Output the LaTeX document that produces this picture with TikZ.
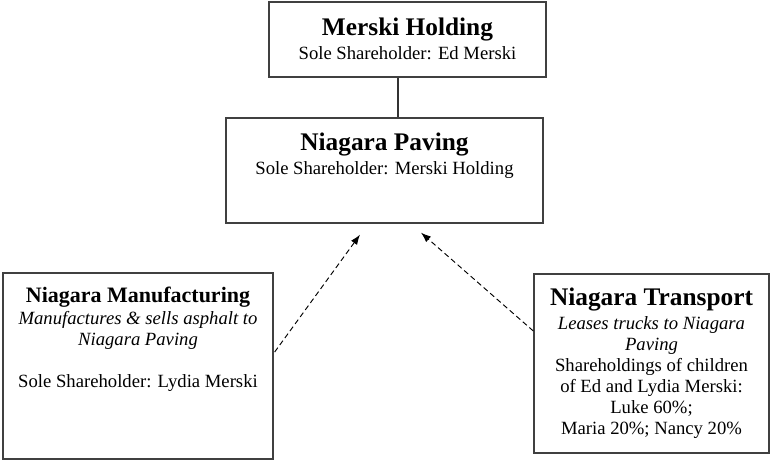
\documentclass[tikz,border=0pt]{standalone}
\usepackage{fontspec}
\setmainfont{Liberation Serif}
\usepackage{tikz}
\usetikzlibrary{calc,positioning,arrows.meta}

\tikzset{
  orgbox/.style={draw=black!75, line width=1pt, rectangle, inner sep=0pt},
  orgtext/.style={anchor=north, inner sep=0pt, align=center,
    font=\fontsize{14}{15.75}\selectfont},
  deal/.style={dash pattern=on 4pt off 2.5pt, line width=0.7pt,
    -{Latex[length=7.5pt,width=5.5pt]}}
}
\newcommand{\orgtitle}[1]{{\fontsize{19}{21}\selectfont\bfseries #1}}

\begin{document}
\begin{tikzpicture}[x=0.75pt,y=-0.75pt]
\useasboundingbox (0,0) rectangle (772,462);

% boxes
\node[orgbox, minimum width=207.75pt, minimum height=56.25pt] (holding) at (407.5,39.5) {};
\node[orgbox, minimum width=237.75pt, minimum height=78.75pt] (paving) at (384.5,170.5) {};
\node[orgbox, minimum width=202.5pt, minimum height=139.5pt] (manuf) at (138,366) {};
\node[orgbox, minimum width=176.25pt, minimum height=134.25pt] (transport) at (651.5,363.5) {};

% texts
\node[orgtext, below=12.5pt of holding.north] (holdingtxt)
  {\orgtitle{Merski Holding}\\[2pt] Sole Shareholder: Ed Merski};
\node[orgtext, below=11.5pt of paving.north] (pavingtxt)
  {\orgtitle{Niagara Paving}\\[2pt] Sole Shareholder: Merski Holding};
\node[orgtext, below=10.5pt of manuf.north] (manuftxt)
  {{\fontsize{16.5}{18}\selectfont\bfseries Niagara Manufacturing}\\[1pt]
   \itshape Manufactures \& sells asphalt to\\ \itshape Niagara Paving\\[16pt]
   Sole Shareholder: Lydia Merski};
\node[orgtext, below=10.5pt of transport.north] (transporttxt)
  {\orgtitle{Niagara Transport}\\[2.5pt]
   \itshape Leases trucks to Niagara\\ \itshape Paving\\
   Shareholdings of children\\ of Ed and Lydia Merski:\\
   Luke 60\%;\\ Maria 20\%; Nancy 20\%};

% ownership line
\draw[black!80, line width=0.8pt] (holding.south -| 398,0) -- (paving.north -| 398,0);

% dealings
\coordinate (tipA) at ($(paving.south)+(-24.5,11)$);
\coordinate (tipB) at ($(paving.south)+(36.5,9)$);
\draw[deal] ($(manuf.east)+(1,-14)$) -- (tipA);
\draw[deal] ($(transport.west)+(0,-32.5)$) -- (tipB);

\end{tikzpicture}
\end{document}
